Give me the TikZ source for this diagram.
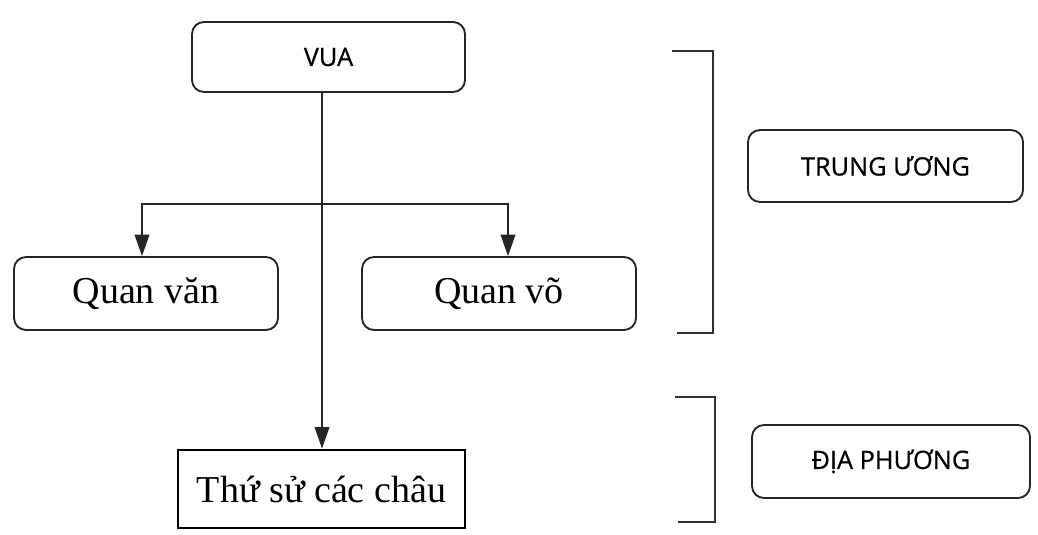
\documentclass[tikz,border=0pt]{standalone}
\usepackage{fontspec}
\setmainfont{Liberation Serif}
\newfontfamily\sansf[FakeBold=0.6]{Open Sans}
\usetikzlibrary{arrows.meta}
\begin{document}
\begin{tikzpicture}[x=0.75pt,y=-0.75pt,
  rbox/.style={draw=black!85,line width=1.4pt,rounded corners=9pt,inner sep=0pt,align=center},
  sbox/.style={draw=black,line width=2.2pt,inner sep=0pt,align=center},
  sanslab/.style={font=\sansf\fontsize{19}{22}\selectfont},
  serlab/.style={font=\fontsize{28.5}{32}\selectfont},
  conn/.style={draw=black!85,line width=1pt},
  arr/.style={conn,-{Triangle[length=16pt,width=11pt]}},
  brk/.style={draw=black!80,line width=1.5pt}]
\useasboundingbox (0,0) rectangle (1038,535);
\fill[white] (0,0) rectangle (1038,535);

\node[rbox,sanslab,minimum width=204.75pt,minimum height=52.5pt] (vua) at (328.5,57) {VUA};
\node[rbox,sanslab,minimum width=206.25pt,minimum height=54pt] (tw) at (885.5,166) {TRUNG ƯƠNG};
\node[rbox,sanslab,minimum width=208.5pt,minimum height=54.75pt] (dp) at (891,461.5) {ĐỊA PHƯƠNG};
\node[rbox,serlab,minimum width=198pt,minimum height=54.75pt] (van) at (146,293.5) {Quan văn};
\node[rbox,serlab,minimum width=205.5pt,minimum height=54.75pt] (vo) at (499,293.5) {Quan võ};
\node[sbox,serlab,minimum width=215.25pt,minimum height=58.5pt] (thu) at (321.5,489) {Thứ sử các châu};

\coordinate (trunk) at (322,204);
\coordinate (bl) at (142,204);
\coordinate (br) at (508,204);

\draw[arr] (vua.south -| trunk) -- (thu.north -| trunk);
\draw[conn,{Triangle[length=16pt,width=11pt]}-{Triangle[length=16pt,width=11pt]}]
  (van.north -| bl) -- (bl) -- (br) -- (vo.north -| br);

\coordinate (b1a) at (672,51);
\coordinate (b1b) at (713,51);
\coordinate (b1c) at (713,333);
\coordinate (b1d) at (677,333);
\draw[brk] (b1a) -- (b1b) -- (b1c) -- (b1d);
\coordinate (b2a) at (675,397);
\coordinate (b2b) at (715,397);
\coordinate (b2c) at (715,522);
\coordinate (b2d) at (678,522);
\draw[brk] (b2a) -- (b2b) -- (b2c) -- (b2d);
\end{tikzpicture}
\end{document}
